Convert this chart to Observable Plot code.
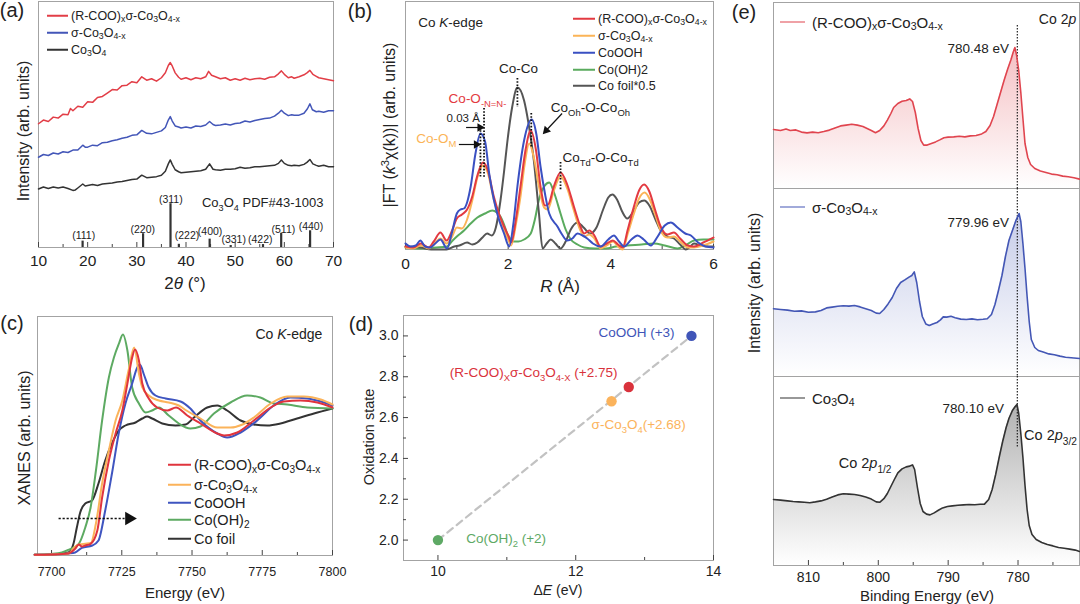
<!DOCTYPE html>
<html><head><meta charset="utf-8">
<script src="https://cdn.jsdelivr.net/npm/d3@7"></script>
<script src="https://cdn.jsdelivr.net/npm/@observablehq/plot@0.6"></script>
<style>
html,body{margin:0;padding:0;background:#fff;}
#fig{position:relative;width:1080px;height:604px;overflow:hidden;font-family:"Liberation Sans",Arial,Helvetica,sans-serif;color:#222;}
.abs{position:absolute;white-space:nowrap;line-height:1;}
sub{font-size:70%;vertical-align:-0.28em;line-height:0;}
sup{font-size:70%;vertical-align:0.5em;line-height:0;}
</style></head><body><div id="fig"></div>
<svg width="0" height="0" style="position:absolute;left:0;top:0"><defs>
<linearGradient id="gRed" x1="0" y1="0" x2="0" y2="1"><stop offset="0" stop-color="#e0454f" stop-opacity="0.34"/><stop offset="1" stop-color="#e0454f" stop-opacity="0"/></linearGradient>
<linearGradient id="gBlue" x1="0" y1="0" x2="0" y2="1"><stop offset="0" stop-color="#4457b5" stop-opacity="0.3"/><stop offset="1" stop-color="#4457b5" stop-opacity="0"/></linearGradient>
<linearGradient id="gBlack" x1="0" y1="0" x2="0" y2="1"><stop offset="0" stop-color="#333333" stop-opacity="0.38"/><stop offset="1" stop-color="#333333" stop-opacity="0"/></linearGradient>
</defs></svg>
<script>
// ================= DATA =================
// (a) XRD patterns [2theta, intensity]
const xrdRCOO = [[10,50.3],[11,51.8],[12,51.2],[13,53.0],[14,52.6],[15,54.2],[16,54.0],[16.5,56.5],[17,55.6],[18,57.4],[19,57.0],[20,59.2],[21,59.0],[22,61.0],[23,61.4],[24,62.8],[25,64.2],[26,64.0],[27,65.8],[28,66.0],[29,67.4],[30,67.0],[31,69.4],[32,68.0],[33,68.6],[34,67.6],[35,69.0],[35.8,71.0],[36.4,74.0],[36.8,75.2],[37.2,73.8],[37.8,71.0],[38.5,69.2],[39,68.4],[40,69.0],[41,68.2],[42,69.0],[43,68.6],[44,69.4],[44.6,71.6],[45.2,70.0],[46,69.4],[47,68.6],[48,69.0],[49,68.0],[50,68.6],[51,68.0],[52,68.8],[53,68.2],[54,68.6],[55,68.8],[56,68.4],[57,69.2],[58,69.4],[58.8,70.6],[59.4,71.8],[60,70.4],[60.8,69.0],[61.5,69.4],[62,68.8],[63,69.4],[64,70.2],[64.6,71.0],[65.2,72.0],[65.8,70.4],[66.5,69.6],[67,69.0],[68,68.6],[69,68.2],[70,67.8]];
const xrdSigma = [[10,36.7],[11,37.8],[12,37.4],[13,38.4],[14,38.0],[15,38.9],[16,38.6],[17,39.6],[18,39.6],[19,41.6],[19.5,40.8],[20,40.8],[21,41.6],[22,41.4],[23,42.6],[24,42.8],[25,43.4],[26,43.8],[27,44.4],[28,44.8],[29,45.6],[30,45.8],[31,47.6],[32,46.4],[33,46.2],[34,46.8],[35,47.4],[35.8,48.8],[36.4,51.8],[36.8,53.2],[37.2,51.4],[37.8,49.4],[38.5,49.0],[39,48.6],[40,49.0],[41,48.6],[42,49.4],[43,49.2],[44,49.8],[44.8,51.2],[45.5,50.0],[46,49.6],[47,49.8],[48,50.2],[49,49.8],[50,50.4],[51,50.6],[52,51.4],[53,51.0],[54,51.6],[55,52.0],[56,52.4],[57,52.6],[58,53.4],[58.8,54.6],[59.4,55.8],[60,54.6],[60.8,53.6],[61.5,54.0],[62,53.8],[63,53.8],[64,54.6],[64.7,56.4],[65.2,58.4],[65.7,56.0],[66.5,55.2],[67,55.4],[68,55.0],[69,55.6],[70,55.6]];
const xrdCo3O4 = [[10,23.8],[11,24.6],[12,24.0],[13,24.6],[14,24.2],[15,24.6],[16,24.0],[17,23.2],[17.5,23.4],[18,24.2],[19,25.8],[19.5,25.0],[20,25.2],[21,25.6],[22,25.2],[23,25.8],[24,26.0],[25,26.2],[26,26.6],[27,26.8],[28,27.2],[29,27.6],[30,27.8],[31,29.4],[32,28.4],[33,28.6],[34,28.8],[35,29.4],[35.8,31.0],[36.4,34.0],[36.8,35.6],[37.2,33.8],[37.8,31.6],[38.5,30.8],[39,30.4],[40,30.6],[41,30.8],[42,31.0],[43,31.2],[44,31.8],[44.8,34.0],[45.5,31.8],[46,31.6],[47,31.4],[48,31.8],[49,31.8],[50,32.0],[51,32.6],[52,32.2],[53,32.4],[54,32.8],[55,32.8],[56,33.0],[57,33.2],[58,33.4],[58.8,34.2],[59.4,35.6],[60,34.2],[60.8,33.4],[61.5,33.2],[62,33.4],[63,33.2],[64,33.8],[64.6,34.6],[65.2,35.8],[65.8,34.0],[66.5,33.4],[67,33.0],[68,33.4],[69,32.8],[70,32.8]];
const pdfHKL = ["(111)","(220)","(311)","(222)","(400)","(331)","(422)","(511)","(440)"];
const pdfPos = [18.97,31.27,36.85,38.55,44.81,49.09,55.66,59.36,65.24];
const pdfInt = [2.6,5.6,17.8,1.3,3.4,0.8,1.2,5.8,6.8];
const pdfLabelX = [19.2,31.2,36.9,40.2,44.9,49.7,55.1,59.8,65.4];
const pdfLabelY = [4.7,7.4,19.3,5.0,6.6,3.4,3.4,7.3,8.3];
const aLegend = [["(R-COO)_{x}σ-Co_{3}O_{4-x}","#e23e47"],["σ-Co_{3}O_{4-x}","#4356b8"],["Co_{3}O_{4}","#333333"]];
const aTicks = [10,20,30,40,50,60,70], aMinor = [15,25,35,45,55,65];

// (b) EXAFS FT [R, |FT|]
const ftRCOO = [[0,3],[0.15,2],[0.3,6],[0.45,2],[0.55,8],[0.68,17],[0.8,9],[0.9,18],[1.0,31],[1.1,35],[1.2,40],[1.3,53],[1.4,74],[1.51,87],[1.6,80],[1.72,53],[1.82,36],[1.92,23],[2.0,14],[2.06,7],[2.15,30],[2.24,63],[2.34,100],[2.44,119],[2.54,100],[2.63,63],[2.72,44],[2.78,45],[2.89,63],[3.02,77],[3.15,65],[3.28,43],[3.4,24],[3.48,16],[3.58,19],[3.68,14],[3.8,3],[3.92,6],[4.04,9],[4.14,5],[4.23,2],[4.33,20],[4.45,43],[4.55,59],[4.65,65],[4.75,58],[4.86,40],[4.97,23],[5.1,15],[5.23,17],[5.35,11],[5.5,4],[5.62,3],[5.8,7],[6.0,12]];
const ftSigma = [[0,2],[0.15,1],[0.3,4],[0.45,1],[0.55,5],[0.68,11],[0.8,6],[0.9,12],[1.0,22],[1.1,21],[1.2,30],[1.3,49],[1.4,72],[1.51,84],[1.6,77],[1.72,50],[1.82,33],[1.92,19],[2.0,10],[2.06,4],[2.15,25],[2.24,53],[2.32,85],[2.41,106],[2.5,92],[2.6,63],[2.7,42],[2.77,40],[2.89,59],[3.02,73],[3.15,61],[3.28,39],[3.4,20],[3.48,13],[3.58,15],[3.68,11],[3.8,1],[3.92,4],[4.04,8],[4.14,3],[4.23,0],[4.33,16],[4.45,36],[4.55,51],[4.66,57],[4.76,50],[4.87,34],[4.97,19],[5.1,12],[5.23,13],[5.35,8],[5.5,2],[5.62,2],[5.8,4],[6.0,8]];
const ftCoOOH = [[0,6],[0.1,3],[0.2,4],[0.29,9],[0.38,3],[0.48,2],[0.58,6],[0.68,10],[0.81,1],[0.9,16],[1.0,36],[1.07,40],[1.14,41],[1.27,63],[1.36,95],[1.46,116],[1.55,108],[1.63,76],[1.72,50],[1.82,30],[1.92,16],[2.02,3],[2.1,25],[2.18,63],[2.31,109],[2.46,130],[2.55,115],[2.63,83],[2.72,55],[2.8,36],[2.96,23],[3.05,15],[3.15,9],[3.25,11],[3.35,16],[3.45,14],[3.54,11],[3.65,6],[3.8,3],[3.95,10],[4.06,14],[4.16,8],[4.26,3],[4.4,10],[4.52,14],[4.64,10],[4.78,4],[4.9,12],[5.05,24],[5.17,27],[5.3,22],[5.45,16],[5.56,14],[5.7,7],[5.85,3],[6.0,2]];
const ftCoOH2 = [[0,2],[0.3,1],[0.6,2],[0.81,3],[0.9,8],[1.0,13],[1.14,19],[1.27,26],[1.4,32],[1.55,36],[1.69,39],[1.78,37],[1.85,33],[1.92,25],[1.98,16],[2.05,10],[2.11,8],[2.2,8],[2.31,10],[2.44,16],[2.52,30],[2.6,50],[2.7,63],[2.8,67],[2.9,56],[3.02,36],[3.12,20],[3.22,10],[3.35,5],[3.48,2],[3.7,1],[3.9,1],[4.1,3],[4.32,4],[4.6,5],[4.84,6],[5.05,4],[5.3,1],[5.45,4],[5.62,9],[5.8,10],[6.0,10]];
const ftFoil = [[0,3],[0.3,2],[0.5,0],[0.8,0],[0.95,3],[1.05,4],[1.2,7],[1.3,5],[1.4,7],[1.5,12],[1.59,16],[1.68,14],[1.76,22],[1.85,49],[1.92,78],[1.98,106],[2.08,143],[2.18,162],[2.31,149],[2.4,125],[2.5,89],[2.6,36],[2.67,1],[2.75,6],[2.83,10],[2.92,6],[3.02,1],[3.12,8],[3.22,20],[3.35,27],[3.47,22],[3.6,16],[3.72,22],[3.85,40],[3.95,52],[4.03,55],[4.12,50],[4.22,38],[4.32,31],[4.45,39],[4.55,47],[4.65,49],[4.75,44],[4.87,30],[4.97,19],[5.1,13],[5.23,11],[5.35,5],[5.46,0],[5.55,3],[5.62,6],[5.75,4],[5.9,3],[6.0,3]];
const bLegend = [["(R-COO)_{x}σ-Co_{3}O_{4-x}","#e33a41"],["σ-Co_{3}O_{4-x}","#fbb457"],["CoOOH","#3a50c2"],["Co(OH)2","#5aab5e"],["Co foil*0.5","#555555"]];
const bPeakMarks = [{x:2.18,y1:171,y2:142},{x:1.53,y1:141,y2:72},{x:1.46,y1:122,y2:72},{x:2.45,y1:136,y2:102},{x:3.02,y1:87,y2:59}];
const bArrows = [{x1:1.18,y1:122,x2:1.45,y2:122,rot:90},{x1:1.04,y1:105,x2:1.38,y2:105,rot:90},{x1:3.05,y1:136,x2:2.74,y2:119,rot:223}];
const bNotes = [
  {x:0.25,y:227,t:"Co ~{K}-edge",c:"#222",a:"start",s:13.5},
  {x:2.2,y:181,t:"Co-Co",c:"#222",a:"middle",s:13.5},
  {x:0.84,y:151,t:"Co-O_{-N=N-}",c:"#e33a41",a:"start",s:13.5},
  {x:0.80,y:131,t:"0.03 Å",c:"#222",a:"start",s:11.5},
  {x:0.21,y:111,t:"Co-O_{M}",c:"#fbb457",a:"start",s:13.5},
  {x:2.83,y:142,t:"Co_{Oh}-O-Co_{Oh}",c:"#222",a:"start",s:13.5},
  {x:3.06,y:92,t:"Co_{Td}-O-Co_{Td}",c:"#222",a:"start",s:13.5}
];

// (c) XANES [E, mu]
const xanesRCOO = [[7694,0.7],[7700,1],[7706,2],[7708.4,6.7],[7709.7,11],[7710.8,9],[7712,10],[7713.9,11.7],[7716.3,25],[7718,58],[7720.4,95],[7722.8,122],[7725.2,145],[7727,172],[7728.7,198],[7729.7,206],[7731.1,195],[7732.3,172],[7734.6,157],[7737.6,148],[7741.2,145],[7744.3,148],[7748.3,140],[7753,132],[7759,122],[7761.4,120],[7766.1,123],[7772,135],[7778,148],[7782.7,154],[7788.6,155],[7794.6,153],[7800,148]];
const xanesSigma = [[7694,0.7],[7700,1],[7706,2],[7708.4,9],[7710,11],[7712,11.7],[7714,12.5],[7715.8,32],[7718,72],[7720.4,105],[7722.8,135],[7725.2,155],[7727.4,185],[7729.4,208],[7731.1,182],[7732.3,168],[7734.6,160],[7738.2,155],[7741.7,153],[7745.3,150],[7748,145],[7753,137],[7759,128],[7763.7,128],[7768,131],[7772,138],[7778,152],[7783.9,159],[7789.8,159],[7795.8,156],[7800,151]];
const xanesCoOOH = [[7694,0.7],[7700,1],[7706,2],[7708.4,3],[7710.8,7.7],[7714.5,10],[7716.7,15],[7719.1,45],[7721.5,82],[7723.9,122],[7726.3,152],[7728.7,172],[7730.5,188],[7731.4,191],[7733,180],[7734.6,168],[7737,160],[7740.6,157],[7745.9,154],[7749.4,147],[7753,135],[7759,122],[7762.5,118],[7767.3,123],[7773.2,135],[7779.1,150],[7785,158],[7791,157],[7797,153],[7800,150]];
const xanesCoOH2 = [[7694,0.7],[7700,1.5],[7703.7,3],[7706,5.7],[7709.7,11.7],[7712,28],[7713.9,48],[7715.8,85],[7718,135],[7720.4,178],[7722.2,198],[7724,212],[7725.4,221],[7727,205],[7728.7,168],[7731.1,152],[7733.5,143],[7735.8,145],[7738.2,148],[7741.7,140],[7745.3,132],[7749.4,127],[7753,129],[7757.8,142],[7763.7,153],[7769.6,160],[7774.3,158],[7779.1,152],[7783.9,151],[7791,148],[7800,147]];
const xanesFoil = [[7694,0.7],[7700,1],[7706,3],[7707.8,11.7],[7709,28],[7710.2,43],[7712,52],[7714.4,55],[7716.7,72],[7719.1,95],[7721.5,112],[7723.9,125],[7726.3,130],[7729.9,133],[7732.3,137],[7734,139],[7735.8,137],[7739.4,132],[7744.1,130],[7747.7,131],[7750.7,138],[7755.4,148],[7759,150],[7762.5,145],[7767.3,135],[7772,131],[7776.8,130],[7781.5,132],[7787.4,137],[7793.4,142],[7800,147]];
const cLegend = [["(R-COO)_{x}σ-Co_{3}O_{4-x}","#e0343d"],["σ-Co_{3}O_{4-x}","#fbb35a"],["CoOOH","#3f55c0"],["Co(OH)_{2}","#5daa62"],["Co foil","#333333"]];
const cShift = [{x1:7702.5,x2:7726,y:37}];

// (d) oxidation state vs ΔE
const dNames = ["Co(OH)_{2} (+2)","σ-Co_{3}O_{4}(+2.68)","(R-COO)_{X}σ-Co_{3}O_{4-X} (+2.75)","CoOOH (+3)"];
const dDeltaE = [10.0,12.52,12.77,13.68];
const dOx = [2.0,2.68,2.75,3.0];
const dColors = ["#5ea965","#fbb35c","#d9323c","#4055b8"];
const dLabelX = [10.41,12.23,10.17,12.33];
const dLabelY = [2.006,2.566,2.822,3.015];
const dIsRef = [true,false,false,true];

// (e) XPS Co 2p [BE, intensity]
const xpsRCOO = [[815,59],[814,58],[813.2,59.5],[812.6,58],[811.8,58.6],[811,56.4],[810.2,55.6],[809.4,56.4],[808.6,55.8],[807.8,57],[807,58.4],[806.2,60.6],[805.4,62.6],[804.6,63.4],[803.8,64.2],[803,63.4],[802.2,62],[801.6,60],[801,58],[800.4,55.8],[799.8,58],[799.2,62.6],[798.7,68.4],[798.2,75],[797.8,81],[797.2,85],[796.6,87.2],[796,88],[795.5,89.6],[795.1,87],[794.7,76],[794.3,60],[793.9,48],[793.5,43.4],[793,43.4],[792.4,45],[791.8,46.6],[791.2,48.6],[790.6,50.8],[790,51.4],[789.2,51.6],[788.4,52.2],[787.6,51.6],[786.8,52.6],[786,53],[785.2,54.6],[784.6,57],[784,63],[783.5,72],[783,84],[782.5,96],[782,108],[781.5,119],[781,129],[780.7,136],[780.45,141],[780.2,133],[779.9,118],[779.6,96],[779.3,70],[779,45],[778.6,31],[778.2,24],[777.6,20],[776.8,17.6],[776,16],[775.2,14.4],[774.4,13.8],[773.6,12.4],[772.8,11.8],[772,10.8],[771.2,9.4]];
const xpsSigma = [[815,67.7],[814,67],[813,66.4],[812,65.2],[811,65.6],[810,64.2],[809,64.6],[808.2,66],[807.4,68.6],[806.6,69.4],[805.8,70.2],[805,70.8],[804.2,70.4],[803.4,71],[802.6,69.6],[801.8,67.8],[801,66],[800.3,63.4],[799.8,63],[799.2,67],[798.6,72.6],[798,79],[797.4,88],[796.8,94],[796.2,96.6],[795.6,99.4],[795.2,101],[794.85,104.6],[794.5,94],[794.1,75],[793.7,60],[793.2,52.6],[792.7,51],[792.2,52.4],[791.6,54],[791.1,56.6],[790.7,59.6],[790.2,59.4],[789.6,60.2],[789,58.8],[788.2,57.4],[787.4,57],[786.6,57.6],[785.8,56.8],[785,57.2],[784.4,57.8],[783.8,62],[783.3,72],[782.8,86],[782.3,101],[781.8,120],[781.3,136],[780.8,146],[780.3,156],[779.85,163],[779.6,155],[779.3,133],[779,108],[778.7,80],[778.4,55],[778.1,37],[777.6,29],[777.1,26],[776.4,24.4],[775.6,22.6],[774.8,21.8],[774,20.4],[773.2,19.2],[772.4,18.8],[771.2,18]];
const xpsCo3O4 = [[815,66],[814,65.4],[813,64.6],[812.2,64],[811.4,63.6],[810.6,63.2],[809.8,62.8],[809,63.6],[808.2,64.6],[807.4,66.2],[806.6,68.4],[805.8,70.6],[805,71.8],[804.2,71.4],[803.4,71],[802.6,70],[801.8,68.4],[801,66.4],[800.3,63.6],[799.8,63.2],[799.2,66.8],[798.7,72],[798.2,79],[797.7,86],[797.2,92.6],[796.6,96.6],[796,98.6],[795.5,99.4],[795.1,100.6],[794.8,96],[794.4,78],[794,62],[793.6,54],[793.1,51.4],[792.6,50.6],[792,52.6],[791.4,55.2],[790.8,57.6],[790.1,59],[789.4,59.6],[788.6,60.2],[787.8,60.6],[787,61],[786.2,60.8],[785.4,61.2],[784.8,61.4],[784.2,66],[783.7,76],[783.2,91],[782.7,108],[782.2,124],[781.7,138],[781.3,147],[780.8,155],[780.4,159],[780.15,161],[779.9,152],[779.6,132],[779.3,108],[779,80],[778.7,56],[778.4,40],[778,31],[777.4,26],[776.6,23],[775.8,21],[775,19.6],[774.2,18],[773.4,17.2],[772.6,16.4],[771.8,15.4],[771.2,14]];
const eLegend = [["(R-COO)_{x}σ-Co_{3}O_{4-x}","#e0454f"],["σ-Co_{3}O_{4-x}","#4457b5"],["Co_{3}O_{4}","#333333"]];
const ePeakBE = 780.1;

// ================= HELPERS =================
const FONT = '"Liberation Sans", Arial, Helvetica, sans-serif';
const fig = document.getElementById("fig");
const STYLE = {fontFamily: FONT, fontSize: "14px", color: "#222", background: "transparent", overflow: "visible"};
const FRAME = "#a3a3a3";
const plain = d => String(d);

function parseRich(s){
  const out=[]; let buf=""; let i=0;
  while(i<s.length){
    const c=s[i];
    if((c==="_"||c==="^"||c==="~") && s[i+1]==="{"){
      if(buf){out.push({t:buf,k:"n"});buf="";}
      const j=s.indexOf("}",i+2);
      out.push({t:s.slice(i+2,j),k:c==="_"?"sub":c==="^"?"sup":"i"});
      i=j+1;
    } else {buf+=c;i++;}
  }
  if(buf) out.push({t:buf,k:"n"});
  return out;
}
const esc = s => s.replace(/&/g,"&amp;").replace(/</g,"&lt;");
function richHTML(s){
  return parseRich(s).map(p=>{const e=esc(p.t);
    return p.k==="sub"?`<sub>${e}</sub>`:p.k==="sup"?`<sup>${e}</sup>`:p.k==="i"?`<i>${e}</i>`:e;}).join("");
}
function richSvg(svg){
  svg.querySelectorAll("text").forEach(t=>{
    const s=t.textContent; if(!/[_^~]\{/.test(s)) return;
    const fs=parseFloat(getComputedStyle(t).fontSize)||14;
    const parts=parseRich(s);
    while(t.firstChild) t.removeChild(t.firstChild);
    let shift=0;
    parts.forEach(p=>{
      const ts=document.createElementNS("http://www.w3.org/2000/svg","tspan");
      ts.textContent=p.t;
      const target = p.k==="sub"?0.3*fs : p.k==="sup"?-0.42*fs : 0;
      const dy=target-shift; if(dy) ts.setAttribute("dy",dy.toFixed(2));
      shift=target;
      if(p.k==="sub"||p.k==="sup") ts.setAttribute("font-size",(0.7*fs).toFixed(2));
      if(p.k==="i") ts.setAttribute("font-style","italic");
      t.appendChild(ts);
    });
  });
}
function mount(plot,left,top){
  const d=document.createElement("div"); d.className="abs";
  d.style.left=left+"px"; d.style.top=top+"px"; d.style.lineHeight="0";
  d.appendChild(plot); fig.appendChild(d); richSvg(plot); return plot;
}
function label(s,x,y,{size=14,anchor="middle",rotate=0,color="#222"}={}){
  const d=document.createElement("div"); d.className="abs";
  d.style.left=x+"px"; d.style.top=y+"px"; d.style.fontSize=size+"px"; d.style.color=color;
  const tx = anchor==="start"?"0":anchor==="end"?"-100%":"-50%";
  d.style.transform=`translate(${tx},-50%)`+(rotate?` rotate(${rotate}deg)`:"");
  d.innerHTML=richHTML(s); fig.appendChild(d); return d;
}
function legend(items,left,rows,{len=22,gap=4,size=12.5,lw=2}={}){
  items.forEach((it,i)=>{
    const d=document.createElement("div"); d.className="abs";
    d.style.cssText+=`left:${left}px;top:${rows[i]}px;transform:translate(0,-50%);font-size:${size}px;display:flex;align-items:center;`;
    d.innerHTML=`<span style="display:inline-block;width:${len}px;height:0;border-top:${lw}px solid ${it[1]};margin-right:${gap}px"></span><span>${richHTML(it[0])}</span>`;
    fig.appendChild(d);
  });
}
const inX=(vals,fh,len)=>Plot.ruleX(vals,{x:d=>d,insetTop:fh-len,stroke:"#444",strokeWidth:1});
const inY=(vals,fw,len)=>Plot.ruleY(vals,{y:d=>d,insetRight:fw-len,stroke:"#444",strokeWidth:1});
const ln=(data,color,w,curve="linear")=>Plot.line(data,{x:d=>d[0],y:d=>d[1],stroke:color,strokeWidth:w,curve});

// ================= PANEL (a) =================
const pdfTable = pdfHKL.map((h,i)=>({hkl:h,pos:pdfPos[i],int:pdfInt[i],lx:pdfLabelX[i],ly:pdfLabelY[i]}));
mount(Plot.plot({
  width:360,height:300,marginLeft:38,marginRight:27,marginTop:1,marginBottom:53,style:STYLE,
  x:{domain:[10,70]}, y:{domain:[0,100],axis:null},
  marks:[
    Plot.frame({stroke:FRAME}),
    inX(aTicks,246,5), inX(aMinor,246,3),
    ln(xrdCo3O4,aLegend[2][1],1.5), ln(xrdSigma,aLegend[1][1],1.5), ln(xrdRCOO,aLegend[0][1],1.5),
    Plot.ruleX(pdfTable,{x:"pos",y1:0,y2:"int",stroke:"#333",strokeWidth:2.2}),
    Plot.text(pdfTable,{x:"lx",y:"ly",text:"hkl",fontSize:10.5,fill:"#222"}),
    Plot.text(["Co_{3}O_{4} PDF#43-1003"],{x:55.6,y:18.3,text:d=>d,fontSize:13,fill:"#222"}),
    Plot.axisX({ticks:aTicks,tickSize:0,tickPadding:7,label:null,fontSize:15.5,tickFormat:plain})
  ]
}),0,0);
legend(aLegend,47,[16,33,50],{len:21,gap:3,size:12.5,lw:2});
label("(a)",12,10,{size:20});
label("Intensity (arb. units)",24,131,{size:16,rotate:-90});
label("2~{θ} (°)",185,283,{size:17});

// ================= PANEL (b) =================
mount(Plot.plot({
  width:380,height:300,marginLeft:45,marginRight:27,marginTop:1,marginBottom:51,style:STYLE,
  x:{domain:[0,6]}, y:{domain:[0,248],axis:null}, color:{type:"identity"},
  marks:[
    Plot.frame({stroke:FRAME}),
    inX([0,2,4,6],248,5), inX([1,3,5],248,3),
    ln(ftCoOH2,bLegend[3][1],2,"monotone-x"),
    ln(ftFoil,bLegend[4][1],2,"monotone-x"),
    ln(ftSigma,bLegend[1][1],2,"monotone-x"),
    ln(ftRCOO,bLegend[0][1],2,"monotone-x"),
    ln(ftCoOOH,bLegend[2][1],2,"monotone-x"),
    Plot.ruleX(bPeakMarks,{x:"x",y1:"y1",y2:"y2",stroke:"#111",strokeWidth:1.8,strokeDasharray:"1.6,1.6"}),
    Plot.link(bArrows,{x1:"x1",y1:"y1",x2:"x2",y2:"y2",stroke:"#111",strokeWidth:1.2}),
    Plot.dot(bArrows,{x:"x2",y:"y2",symbol:"triangle",r:3.2,fill:"#111",rotate:"rot"}),
    Plot.text(bNotes,{x:"x",y:"y",text:"t",fill:"c",textAnchor:"start",fontSize:13.5,filter:d=>d.a==="start"&&d.s===13.5}),
    Plot.text(bNotes,{x:"x",y:"y",text:"t",fill:"c",textAnchor:"middle",fontSize:13.5,filter:d=>d.a==="middle"}),
    Plot.text(bNotes,{x:"x",y:"y",text:"t",fill:"c",textAnchor:"start",fontSize:11.5,filter:d=>d.s===11.5}),
    Plot.axisX({ticks:[0,2,4,6],tickSize:0,tickPadding:8,label:null,fontSize:15.5,tickFormat:plain})
  ]
}),360,0);
legend(bLegend,573,[19,36,53,69.5,86],{len:22,gap:3,size:12.5,lw:2});
label("(b)",360,11,{size:20});
label("|FT (~{k}^{3}χ(k))| (arb. units)",390,125,{size:16,rotate:-90});
label("~{R} (Å)",560,286,{size:17});

// ================= PANEL (c) =================
mount(Plot.plot({
  width:360,height:304,marginLeft:37,marginRight:28,marginTop:16,marginBottom:49,style:STYLE,
  x:{domain:[7695,7800]}, y:{domain:[0,239],axis:null},
  marks:[
    Plot.frame({stroke:FRAME}),
    inX([7700,7725,7750,7775,7800],239,5), inX([7712.5,7737.5,7762.5,7787.5],239,3),
    ln(xanesFoil,cLegend[4][1],2,"monotone-x"),
    ln(xanesCoOH2,cLegend[3][1],2,"monotone-x"),
    ln(xanesCoOOH,cLegend[2][1],2,"monotone-x"),
    ln(xanesSigma,cLegend[1][1],2,"monotone-x"),
    ln(xanesRCOO,cLegend[0][1],2,"monotone-x"),
    Plot.link(cShift,{x1:"x1",x2:"x2",y1:"y",y2:"y",stroke:"#111",strokeWidth:1.6,strokeDasharray:"2.2,1.8"}),
    Plot.dot(cShift,{x:d=>d.x2+1.6,y:"y",symbol:"triangle",r:5,fill:"#111",rotate:90}),
    Plot.text(["Co ~{K}-edge"],{x:7796.4,y:221,text:d=>d,textAnchor:"end",fontSize:14,fill:"#222"}),
    Plot.axisX({ticks:[7700,7725,7750,7775,7800],tickSize:0,tickPadding:12,label:null,fontSize:12.5,tickFormat:plain})
  ]
}),0,300);
legend(cLegend,168,[465,485,503,520,539],{len:23,gap:3,size:14.5,lw:2});
label("(c)",12,323,{size:20});
label("XANES (arb. units)",25,438,{size:16,rotate:-90});
label("Energy (eV)",185,592,{size:15});

// ================= PANEL (d) =================
const dTable = dNames.map((n,i)=>({name:n,dE:dDeltaE[i],ox:dOx[i],color:dColors[i],lx:dLabelX[i],ly:dLabelY[i],ref:dIsRef[i]}));
mount(Plot.plot({
  width:380,height:304,marginLeft:43,marginRight:27,marginTop:15,marginBottom:44,style:STYLE,
  x:{domain:[9.5,14]}, y:{domain:[1.9,3.1]}, color:{type:"identity"},
  marks:[
    Plot.frame({stroke:FRAME}),
    inX([10,12,14],245,5), inX([11,13],245,3),
    inY([2.0,2.2,2.4,2.6,2.8,3.0],310,5), inY([2.1,2.3,2.5,2.7,2.9],310,3),
    Plot.line(dTable.filter(d=>d.ref),{x:"dE",y:"ox",stroke:"#c2c2c2",strokeWidth:2.2,strokeDasharray:"7,5"}),
    Plot.dot(dTable,{x:"dE",y:"ox",fill:"color",r:5.2}),
    Plot.text(dTable,{x:"lx",y:"ly",text:"name",fill:"color",textAnchor:"start",fontSize:13.5}),
    Plot.axisX({ticks:[10,12,14],tickSize:0,tickPadding:6,label:null,fontSize:14,tickFormat:plain}),
    Plot.axisY({ticks:[2.0,2.2,2.4,2.6,2.8,3.0],tickFormat:d3.format(".1f"),tickSize:0,tickPadding:5,label:null,fontSize:14})
  ]
}),360,300);
label("(d)",361,324,{size:20});
label("Oxidation state",369,437,{size:14.5,rotate:-90});
label("Δ~{E} (eV)",558,590,{size:14});

// ================= PANEL (e) =================
const eX = {domain:[815,771.2]};
mount(Plot.plot({
  width:340,height:189,marginLeft:33,marginRight:1,marginTop:2,marginBottom:1,style:STYLE,
  x:{...eX,axis:null}, y:{domain:[0,186],axis:null},
  marks:[
    Plot.areaY(xpsRCOO,{x:d=>d[0],y:d=>d[1],fill:"url(#gRed)"}),
    Plot.frame({stroke:FRAME}),
    Plot.ruleX([ePeakBE],{x:d=>d,y1:163,y2:0,stroke:"#222",strokeWidth:1.2,strokeDasharray:"1.5,1.5"}),
    ln(xpsRCOO,eLegend[0][1],1.6),
    Plot.text(["Co 2~{p}"],{x:771.67,y:169,text:d=>d,textAnchor:"end",fontSize:14,fill:"#222"}),
    Plot.text(["780.48 eV"],{x:781.28,y:140,text:d=>d,textAnchor:"end",fontSize:13.5,fill:"#222"})
  ]
}),740,0);
mount(Plot.plot({
  width:340,height:189,marginLeft:33,marginRight:1,marginTop:0,marginBottom:1,style:STYLE,
  x:{...eX,axis:null}, y:{domain:[0,188],axis:null},
  marks:[
    Plot.areaY(xpsSigma,{x:d=>d[0],y:d=>d[1],fill:"url(#gBlue)"}),
    Plot.frame({stroke:FRAME}),
    Plot.ruleX([ePeakBE],{x:d=>d,stroke:"#222",strokeWidth:1.2,strokeDasharray:"1.5,1.5"}),
    ln(xpsSigma,eLegend[1][1],1.6),
    Plot.text(["779.96 eV"],{x:781.28,y:154,text:d=>d,textAnchor:"end",fontSize:13.5,fill:"#222"})
  ]
}),740,188);
mount(Plot.plot({
  width:340,height:228,marginLeft:33,marginRight:1,marginTop:0,marginBottom:39,style:STYLE,
  x:eX, y:{domain:[0,189],axis:null},
  marks:[
    Plot.areaY(xpsCo3O4,{x:d=>d[0],y:d=>d[1],fill:"url(#gBlack)"}),
    Plot.frame({stroke:FRAME}),
    inX([810,800,790,780],189,5), inX([805,795,785,775],189,3),
    Plot.ruleX([ePeakBE],{x:d=>d,y1:189,y2:118,stroke:"#222",strokeWidth:1.2,strokeDasharray:"1.5,1.5"}),
    ln(xpsCo3O4,eLegend[2][1],1.6),
    Plot.text(["780.10 eV"],{x:782.0,y:157,text:d=>d,textAnchor:"end",fontSize:13.5,fill:"#222"}),
    Plot.text(["Co 2~{p}_{1/2}"],{x:805.67,y:102,text:d=>d,textAnchor:"start",fontSize:14.5,fill:"#222"}),
    Plot.text(["Co 2~{p}_{3/2}"],{x:779.13,y:130,text:d=>d,textAnchor:"start",fontSize:14.5,fill:"#222"}),
    Plot.axisX({ticks:[810,800,790,780],tickSize:0,tickPadding:7,label:null,fontSize:14,tickFormat:plain})
  ]
}),740,376);
legend([eLegend[0]],780,[22],{len:25,gap:7,size:15,lw:1.8});
legend([eLegend[1]],780,[207],{len:25,gap:7,size:15,lw:1.8});
legend([eLegend[2]],780,[398],{len:25,gap:7,size:15,lw:1.8});
label("(e)",744,12,{size:20});
label("Intensity (arb. units)",755,283,{size:16,rotate:-90});
label("Binding Energy (eV)",927,595,{size:15});
</script></body></html>
